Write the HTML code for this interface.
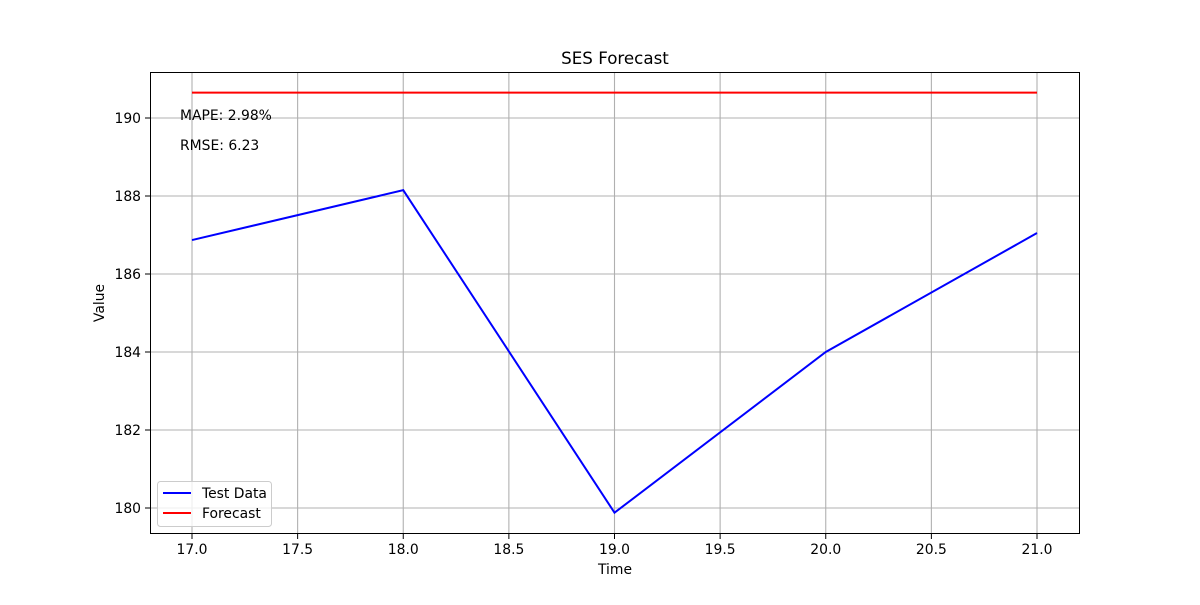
<!DOCTYPE html>
<html><head><meta charset="utf-8"><style>
body{margin:0;background:#fff;}
svg text{font-family:"DejaVu Sans","Liberation Sans",sans-serif;}
</style></head><body>
<svg id="chart" width="1200" height="600" xmlns="http://www.w3.org/2000/svg">
<rect width="1200" height="600" fill="#fff"/>
<g id="grid"></g>
<g id="series"></g>
<rect x="150.5" y="72.5" width="929" height="461" fill="none" stroke="#000" stroke-width="1"/>
<g id="ticks"></g>
<text x="615" y="64" font-size="16.7" text-anchor="middle">SES Forecast</text>
<text x="615" y="574" font-size="13.9" text-anchor="middle">Time</text>
<text x="104" y="303" font-size="13.9" text-anchor="middle" transform="rotate(-90 104 303)">Value</text>
<text x="180" y="120" font-size="13.9">MAPE: 2.98%</text>
<text x="180" y="150" font-size="13.9">RMSE: 6.23</text>
<g>
<rect x="157.5" y="481.5" width="114" height="45" rx="3" fill="#fff" fill-opacity="0.8" stroke="#ccc"/>
<line x1="163" y1="493" x2="191" y2="493" stroke="blue" stroke-width="2"/>
<text x="202" y="498" font-size="13.9">Test Data</text>
<line x1="163" y1="513" x2="191" y2="513" stroke="red" stroke-width="2"/>
<text x="202" y="518" font-size="13.9">Forecast</text>
</g>
</svg>
<script>
const times = [17, 18, 19, 20, 21];
const testValues = [186.87, 188.15, 179.88, 184.0, 187.05];
const forecastValues = [190.65, 190.65, 190.65, 190.65, 190.65];
const xTicks = [17.0, 17.5, 18.0, 18.5, 19.0, 19.5, 20.0, 20.5, 21.0];
const yTicks = [180, 182, 184, 186, 188, 190];

const NS = "http://www.w3.org/2000/svg";
const xs = v => 192 + (v - 17) * 211.25;
const ys = v => 508 - (v - 180) * 39;
function mk(tag, attrs, parent){const e=document.createElementNS(NS,tag);for(const k in attrs)e.setAttribute(k,attrs[k]);parent.appendChild(e);return e;}
const grid=document.getElementById('grid'), ticks=document.getElementById('ticks'), series=document.getElementById('series');
xTicks.forEach(t=>{
  const x=xs(t);
  const g=mk('line',{x1:x,x2:x,y1:72,y2:534,stroke:'#b0b0b0','stroke-width':1.1},grid);
  
  
  const tk=mk('line',{x1:x,x2:x,y1:534,y2:539,stroke:'#000'},ticks);
  
  
  const tx=mk('text',{x:x,y:554,'font-size':13.9,'text-anchor':'middle'},ticks);
  tx.textContent=t.toFixed(1);
  
  
});
yTicks.forEach(t=>{
  const y=ys(t);
  const g=mk('line',{x1:150,x2:1080,y1:y,y2:y,stroke:'#b0b0b0','stroke-width':1.1},grid);
  
  
  const tk=mk('line',{x1:145,x2:150,y1:y,y2:y,stroke:'#000'},ticks);
  
  
  const tx=mk('text',{x:141,y:y+5,'font-size':13.9,'text-anchor':'end'},ticks);
  tx.textContent=t;
  
  
});
const p1=mk('polyline',{points:times.map((t,i)=>xs(t)+','+ys(testValues[i])).join(' '),fill:'none',stroke:'blue','stroke-width':2},series);


const p2=mk('polyline',{points:times.map((t,i)=>xs(t)+','+ys(forecastValues[i])).join(' '),fill:'none',stroke:'red','stroke-width':2},series);


</script>
</body></html>
